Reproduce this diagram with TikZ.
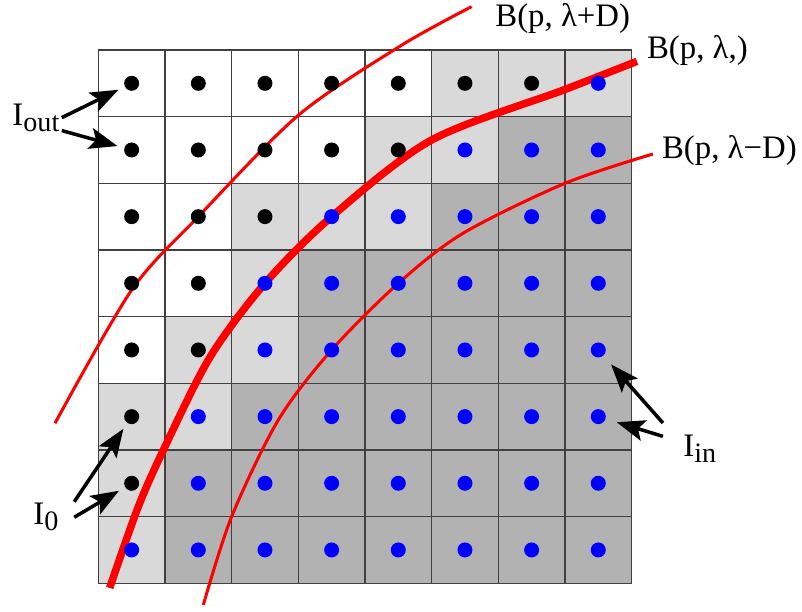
\documentclass[tikz,border=0pt]{standalone}
\usepackage{fontspec}
\setmainfont{Liberation Serif}
\usetikzlibrary{arrows.meta}

\colorlet{shade0}{white}
\colorlet{shade1}{black!15}
\colorlet{shade2}{black!30}
\colorlet{dotk}{black}
\colorlet{dotb}{blue}

\newcommand{\lowidx}[1]{\raisebox{-2.5pt}{\fontsize{12}{12}\selectfont #1}}

% row / (shade/dot colour) for every cell, top row first
\newcommand{\pixrows}{
  0/{0/k,0/k,0/k,0/k,0/k,1/k,1/k,1/b},
  1/{0/k,0/k,0/k,0/k,1/k,1/b,2/b,2/b},
  2/{0/k,0/k,1/k,1/b,1/b,2/b,2/b,2/b},
  3/{0/k,0/k,1/b,2/b,2/b,2/b,2/b,2/b},
  4/{0/k,1/k,1/b,2/b,2/b,2/b,2/b,2/b},
  5/{1/k,1/b,2/b,2/b,2/b,2/b,2/b,2/b},
  6/{1/k,2/b,2/b,2/b,2/b,2/b,2/b,2/b},
  7/{1/b,2/b,2/b,2/b,2/b,2/b,2/b,2/b}}

\tikzset{
  cell/.style={draw=black!75, line width=0.6pt},
  pix/.style={circle, inner sep=0pt, minimum size=0.225cm},
  ball/.style={red, line width=1.3pt},
  ballmain/.style={red, line width=3.2pt},
  pointer/.style={-{Stealth[length=12pt,width=9pt,inset=2.5pt]},
    line width=1.5pt, shorten >=0.1cm},
  tag/.style={font=\fontsize{14}{16}\selectfont, inner sep=0pt, anchor=base west},
}

\begin{document}
\begin{tikzpicture}
    \useasboundingbox (-1.475,-0.43) rectangle (10.556,8.75);

    % cells
    \foreach \rr/\row in \pixrows {
        \foreach \s/\d [count=\cc from 0] in \row {
            \draw[cell, fill=shade\s] (\cc,7-\rr) rectangle ++(1,1);
        }
    }

    % the three balls
    \draw[ball]
    plot[smooth]
    coordinates {
    (-0.65,2.4) (0.5,4.4) (1.5,5.5)
    (3,7.02) (4.53,8.06) (5.6,8.65)
    };

    \draw[ballmain]
    plot[smooth]
    coordinates {
    (0.17,-0.07) (0.6,1.15) (1.0,2.05)
    (1.68,3.4) (2.5,4.5) (3.5,5.5)
    (5.0,6.65) (6.98,7.4) (8.08,7.83)
    };

    \draw[ball]
    plot[smooth]
    coordinates {
    (1.575,-0.325) (2.0,1.0) (2.7,2.45)
    (3.5,3.5) (4.5,4.5) (5.47,5.25)
    (7.0,6.0) (8.32,6.44)
    };

    % pixel centres
    \foreach \rr/\row in \pixrows {
        \foreach \s/\d [count=\cc from 0] in \row {
            \node[pix, fill=dot\d] (d\rr\cc) at (\cc+0.5,7.5-\rr) {};
        }
    }

    % labels
    \node[tag] (bplus) at (5.95,8.35) {B(p, λ+D)};
    \node[tag] (bmid) at (8.225,7.875) {B(p, λ,)};
    \node[tag] (bminus) at (8.45,6.375) {B(p, λ−D)};

    \node[tag] (iout) at (-1.295,6.87) {I\lowidx{out}};
    \node[tag] (izero) at (-0.98,0.875) {I\lowidx{0}};
    \node[tag] (iin) at (8.77,1.895) {I\lowidx{in}};

    \draw[pointer] ([xshift=0.03cm]iout.east) -- (d00);
    \draw[pointer] ([xshift=0.03cm,yshift=0.02cm]iout.south east) -- (d10);
    \draw[pointer] ([xshift=0.23cm,yshift=0.02cm]izero.north east) -- (d50);
    \draw[pointer] ([xshift=0.23cm]izero.east) -- (d60);
    \draw[pointer, shorten >=0.17cm] ([xshift=-0.3cm,yshift=0.18cm]iin.north west) -- (d47);
    \draw[pointer, shorten >=0.17cm] ([xshift=-0.3cm,yshift=-0.02cm]iin.north west) -- (d57);
\end{tikzpicture}
\end{document}
